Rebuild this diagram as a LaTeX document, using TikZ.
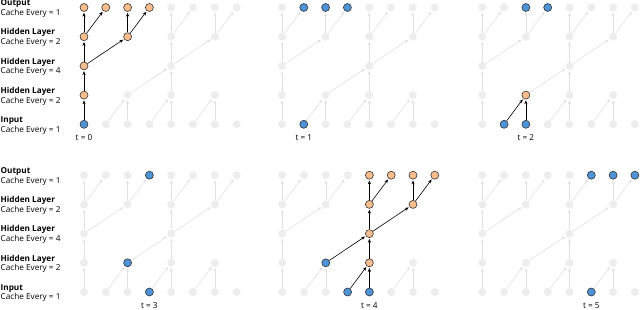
\documentclass[tikz,border=0pt]{standalone}
\usepackage{fontspec}
\setmainfont{Open Sans}
\usetikzlibrary{arrows.meta}
\definecolor{nblue}{HTML}{4D93D5}
\definecolor{norange}{HTML}{F8BD8C}
\definecolor{ngray}{HTML}{EDEDED}
\definecolor{egray}{HTML}{E0E0E0}
\definecolor{nline}{HTML}{333333}
\tikzset{
 base/.style={circle,minimum size=8pt,inner sep=0pt},
 gnode/.style={base,fill=ngray},
 bnode/.style={base,fill=nblue,draw=nline,line width=0.6pt},
 onode/.style={base,fill=norange,draw=nline,line width=0.6pt},
 gedge/.style={draw=egray,line width=0.6pt,shorten >=1pt,-{Stealth[length=3.6pt,width=3pt]}},
 kedge/.style={draw=black,line width=0.6pt,shorten >=1pt,-{Stealth[length=3.8pt,width=3.2pt]}},
 lab/.style={anchor=west,align=left,inner sep=0pt,font=\fontsize{8.2}{9.8}\selectfont},
 tlab/.style={inner sep=0pt,font=\fontsize{8.2}{9}\selectfont},
}
\newcommand\hlnode[4]{\expandafter\def\csname hn#1-#2-#3\endcsname{#4}}
\newcommand\hledge[5]{\expandafter\def\csname he#1-#2-#3-#4-#5\endcsname{}}
\newcommand\drawpanel[3]{%
 \foreach \rr/\cl in {0/0,0/1,0/2,0/3,0/4,0/5,0/6,0/7,1/0,1/2,1/4,1/6,2/0,2/4,3/0,3/2,3/4,3/6,4/0,4/1,4/2,4/3,4/4,4/5,4/6,4/7}{%
  \ifcsname hn#1-\rr-\cl\endcsname\edef\st{\csname hn#1-\rr-\cl\endcsname}\else\def\st{gnode}\fi
  \edef\tmp{\noexpand\node[\st] (p#1-\rr-\cl) at (#2+\cl*21.8,#3+\rr*29.2) {};}\tmp
 }%
 \foreach \ra/\ca/\rb/\cb in {0/0/1/0,0/1/1/2,0/2/1/2,0/3/1/4,0/4/1/4,0/5/1/6,0/6/1/6,1/0/2/0,1/2/2/4,1/4/2/4,2/0/3/0,2/0/3/2,2/4/3/4,2/4/3/6,3/0/4/0,3/0/4/1,3/2/4/2,3/2/4/3,3/4/4/4,3/4/4/5,3/6/4/6,3/6/4/7}{%
  \ifcsname he#1-\ra-\ca-\rb-\cb\endcsname\def\est{kedge}\else\def\est{gedge}\fi
  \edef\tmp{\noexpand\draw[\est] (p#1-\ra-\ca) -- (p#1-\rb-\cb);}\tmp
 }%
}
% panel 1, t=0
\hlnode{1}{0}{0}{bnode}
\hlnode{1}{1}{0}{onode}\hlnode{1}{2}{0}{onode}\hlnode{1}{3}{0}{onode}\hlnode{1}{3}{2}{onode}
\hlnode{1}{4}{0}{onode}\hlnode{1}{4}{1}{onode}\hlnode{1}{4}{2}{onode}\hlnode{1}{4}{3}{onode}
\hledge{1}{0}{0}{1}{0}\hledge{1}{1}{0}{2}{0}\hledge{1}{2}{0}{3}{0}\hledge{1}{2}{0}{3}{2}
\hledge{1}{3}{0}{4}{0}\hledge{1}{3}{0}{4}{1}\hledge{1}{3}{2}{4}{2}\hledge{1}{3}{2}{4}{3}
% panel 2, t=1
\hlnode{2}{0}{1}{bnode}\hlnode{2}{4}{1}{bnode}\hlnode{2}{4}{2}{bnode}\hlnode{2}{4}{3}{bnode}
% panel 3, t=2
\hlnode{3}{0}{1}{bnode}\hlnode{3}{0}{2}{bnode}\hlnode{3}{4}{2}{bnode}\hlnode{3}{4}{3}{bnode}
\hlnode{3}{1}{2}{onode}
\hledge{3}{0}{1}{1}{2}\hledge{3}{0}{2}{1}{2}
% panel 4, t=3
\hlnode{4}{0}{3}{bnode}\hlnode{4}{1}{2}{bnode}\hlnode{4}{4}{3}{bnode}
% panel 5, t=4
\hlnode{5}{0}{3}{bnode}\hlnode{5}{0}{4}{bnode}\hlnode{5}{1}{2}{bnode}
\hlnode{5}{1}{4}{onode}\hlnode{5}{2}{4}{onode}\hlnode{5}{3}{4}{onode}\hlnode{5}{3}{6}{onode}
\hlnode{5}{4}{4}{onode}\hlnode{5}{4}{5}{onode}\hlnode{5}{4}{6}{onode}\hlnode{5}{4}{7}{onode}
\hledge{5}{0}{3}{1}{4}\hledge{5}{0}{4}{1}{4}\hledge{5}{1}{2}{2}{4}\hledge{5}{1}{4}{2}{4}
\hledge{5}{2}{4}{3}{4}\hledge{5}{2}{4}{3}{6}\hledge{5}{3}{4}{4}{4}\hledge{5}{3}{4}{4}{5}
\hledge{5}{3}{6}{4}{6}\hledge{5}{3}{6}{4}{7}
% panel 6, t=5
\hlnode{6}{0}{5}{bnode}\hlnode{6}{4}{5}{bnode}\hlnode{6}{4}{6}{bnode}\hlnode{6}{4}{7}{bnode}
\begin{document}
\begin{tikzpicture}[x=1pt,y=1pt]
\useasboundingbox (0,0) rectangle (640,309);
\drawpanel{1}{84}{184.7}
\drawpanel{2}{282}{184.7}
\drawpanel{3}{482.3}{184.7}
\drawpanel{4}{84}{17}
\drawpanel{5}{282.2}{17}
\drawpanel{6}{482.3}{17}
\foreach \p/\y in {1/184.7,4/17}{
 \node[lab] (lab\p-4) at (0.5,\y+4*29.2-1) {\textbf{Output}\\Cache Every = 1};
 \node[lab] (lab\p-3) at (0.5,\y+3*29.2-1) {\textbf{Hidden Layer}\\Cache Every = 2};
 \node[lab] (lab\p-2) at (0.5,\y+2*29.2-1) {\textbf{Hidden Layer}\\Cache Every = 4};
 \node[lab] (lab\p-1) at (0.5,\y+1*29.2-1) {\textbf{Hidden Layer}\\Cache Every = 2};
 \node[lab] (lab\p-0) at (0.5,\y-1) {\textbf{Input}\\Cache Every = 1};
}
\node[tlab] (t1) at (84,184.7-13.5) {t = 0};
\node[tlab] (t2) at (282+21.8,184.7-13.5) {t = 1};
\node[tlab] (t3) at (482.3+2*21.8,184.7-13.5) {t = 2};
\node[tlab] (t4) at (84+3*21.8,17-13.5) {t = 3};
\node[tlab] (t5) at (282.2+4*21.8,17-13.5) {t = 4};
\node[tlab] (t6) at (482.3+5*21.8,17-13.5) {t = 5};
\end{tikzpicture}
\end{document}
